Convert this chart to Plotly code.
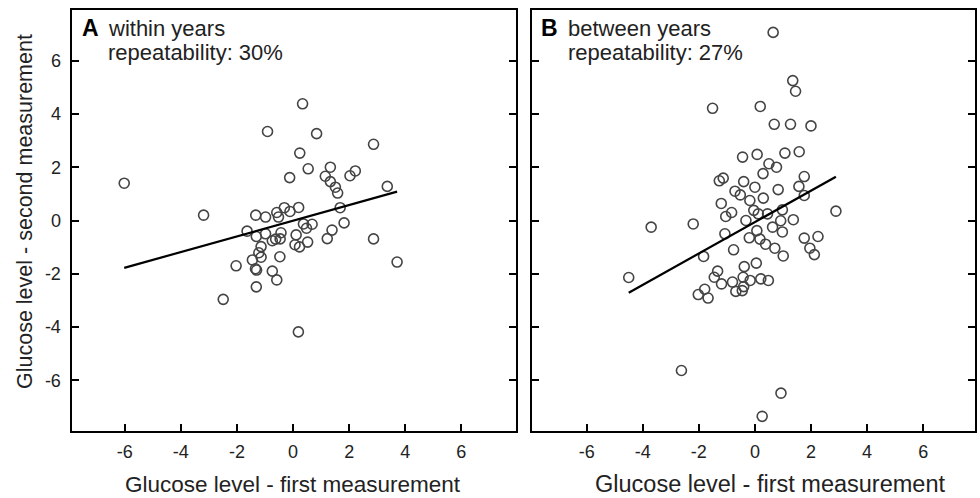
import plotly.graph_objects as go

# ---- Panel A: within years ----
x_a = [-6.02, -3.19, 0.34, -0.91, 0.84, 2.87, 0.24, 0.54, -0.12, 1.33, 1.15, 1.33, 1.51, 1.59,
       2.03, 2.22, 3.36, 1.68, 1.82, 1.39, 1.22, 2.87, 3.71, -1.33, -0.98, -0.58, -0.52, -0.31,
       -0.11, 0.20, -1.64, -1.31, -0.98, -0.74, -0.43, -0.46, 0.11, 0.07, 0.23, 0.37, 0.48, 0.68,
       0.52, -1.14, -1.22, -1.45, -1.14, -0.47, -2.03, -1.34, -0.74, -0.58, -1.31, -2.49, 0.19,
       -1.30, -0.62]
y_a = [1.40, 0.20, 4.38, 3.34, 3.26, 2.86, 2.53, 1.94, 1.61, 2.00, 1.66, 1.46, 1.25, 1.03,
       1.68, 1.86, 1.28, 0.48, -0.09, -0.36, -0.68, -0.69, -1.56, 0.20, 0.13, 0.30, 0.13, 0.48,
       0.34, 0.49, -0.40, -0.60, -0.50, -0.76, -0.46, -0.69, -0.54, -0.91, -0.99, -0.13, -0.29, -0.14,
       -0.81, -0.98, -1.21, -1.48, -1.38, -1.36, -1.70, -1.81, -1.90, -2.23, -2.49, -2.96, -4.18,
       -1.86, -0.70]
slope_a, intercept_a = 0.294, -0.008

# ---- Panel B: between years ----
x_b = [0.65, 1.35, 1.45, -1.51, 0.19, 0.69, 1.27, 2.00, -0.44, 0.08, 1.07, 1.58, 0.50, 0.77,
       0.29, -1.27, -1.13, -0.40, 0.00, -0.71, -0.52, 0.83, 1.76, 1.57, 1.76, -0.18, 0.30, -1.20,
       -0.83, -1.04, -0.04, 0.12, 0.45, 0.98, -0.32, 0.92, 1.37, 2.89, -3.70, -2.20, -1.07, 0.07,
       0.63, 0.98, -0.20, 0.18, 0.38, 1.76, 2.25, 1.96, 2.12, -0.76, 0.71, 1.01, -1.83, -4.50,
       -1.33, -1.45, -1.19, -0.80, -0.38, 0.05, -0.42, -0.17, 0.21, 0.48, -0.40, -0.68, -0.45,
       -1.79, -2.02, -1.67, -2.62, 0.93, 0.26]
y_b = [7.06, 5.25, 4.85, 4.21, 4.28, 3.61, 3.61, 3.55, 2.38, 2.48, 2.53, 2.58, 2.13, 2.00,
       1.76, 1.49, 1.59, 1.46, 1.25, 1.10, 0.96, 1.16, 1.65, 1.28, 0.94, 0.75, 0.84, 0.64,
       0.30, 0.15, 0.38, 0.25, 0.25, 0.40, 0.00, -0.01, 0.03, 0.35, -0.25, -0.13, -0.50, -0.38,
       -0.25, -0.43, -0.65, -0.70, -0.89, -0.66, -0.60, -1.04, -1.28, -1.10, -1.04, -1.33, -1.35, -2.14,
       -1.90, -2.13, -2.38, -2.31, -1.73, -1.60, -2.13, -2.25, -2.19, -2.25, -2.48, -2.66, -2.63,
       -2.58, -2.78, -2.91, -5.63, -6.48, -7.35]
slope_b, intercept_b = 0.589, -0.06

tick_vals = [-6, -4, -2, 0, 2, 4, 6]
tick_text = ["-6", "-4", "-2", "0", "2", "4", "6"]

FONT = "Liberation Sans, Arial, sans-serif"
TXT = "#222222"

marker = dict(symbol="circle-open", size=10, color="#444444", line=dict(width=1.6, color="#444444"))

fig = go.Figure()
for xs, ys, m, b, xr, yr in [(x_a, y_a, slope_a, intercept_a, "x", "y"),
                             (x_b, y_b, slope_b, intercept_b, "x2", "y2")]:
    fig.add_trace(go.Scatter(x=xs, y=ys, mode="markers", marker=marker,
                             xaxis=xr, yaxis=yr, showlegend=False, hoverinfo="skip"))
    x0, x1 = min(xs), max(xs)
    fig.add_trace(go.Scatter(x=[x0, x1], y=[m * x0 + b, m * x1 + b], mode="lines",
                             line=dict(color="black", width=2.2),
                             xaxis=xr, yaxis=yr, showlegend=False, hoverinfo="skip"))

W, H = 980, 498
ydom = [(H - 431) / H, (H - 10) / H]
axis_common = dict(showline=True, linecolor="black", linewidth=2, ticks="inside", ticklen=7,
                   tickwidth=1.8, tickcolor="black", showgrid=False, zeroline=False,
                   tickvals=tick_vals, ticktext=tick_text,
                   tickfont=dict(family=FONT, size=18, color=TXT))

fig.update_layout(
    width=W, height=H, margin=dict(l=0, r=0, t=0, b=0),
    paper_bgcolor="white", plot_bgcolor="white",
    xaxis=dict(domain=[71.5 / W, 516 / W], range=[-7.9, 7.95], anchor="y", mirror=True,
               ticklabelstandoff=3, **axis_common),
    yaxis=dict(domain=ydom, range=[-7.9, 7.9], anchor="x", mirror="ticks",
               ticklabelstandoff=5, **axis_common),
    xaxis2=dict(domain=[532 / W, 975 / W], range=[-7.95, 7.85], anchor="y2", mirror=True,
                ticklabelstandoff=3, **axis_common),
    yaxis2=dict(domain=ydom, range=[-7.9, 7.9], anchor="x2", mirror="ticks",
                showticklabels=False, **axis_common),
)

def px(x):
    return x / W

def py(y):
    return (H - y) / H

ann = [
    dict(text="<b>A</b>", x=px(80), y=py(28), size=23),
    dict(text="within years", x=px(106), y=py(28), size=22),
    dict(text="repeatability: 30%", x=px(106), y=py(53), size=22),
    dict(text="<b>B</b>", x=px(539), y=py(28), size=23),
    dict(text="between years", x=px(566), y=py(28), size=22),
    dict(text="repeatability: 27%", x=px(566), y=py(53), size=22),
]
for a in ann:
    fig.add_annotation(text=a["text"], x=a["x"], y=a["y"], xref="paper", yref="paper",
                       xanchor="left", yanchor="middle", showarrow=False,
                       font=dict(family=FONT, size=a["size"], color="black" if "<b>" in a["text"] else TXT))

fig.add_annotation(text="Glucose level - first measurement", x=px(292.5), y=py(484),
                   xref="paper", yref="paper", xanchor="center", yanchor="middle", showarrow=False,
                   font=dict(family=FONT, size=22.5, color=TXT))
fig.add_annotation(text="Glucose level - first measurement", x=px(770), y=py(484),
                   xref="paper", yref="paper", xanchor="center", yanchor="middle", showarrow=False,
                   font=dict(family=FONT, size=23.5, color=TXT))
fig.add_annotation(text="Glucose level - second measurement", x=px(25), y=py(212),
                   xref="paper", yref="paper", xanchor="center", yanchor="middle", showarrow=False,
                   textangle=-90, font=dict(family=FONT, size=21.5, color=TXT))

fig.write_html("out.html", config={"displayModeBar": False},
               post_script="document.body.style.margin='0';document.body.style.padding='0';")
